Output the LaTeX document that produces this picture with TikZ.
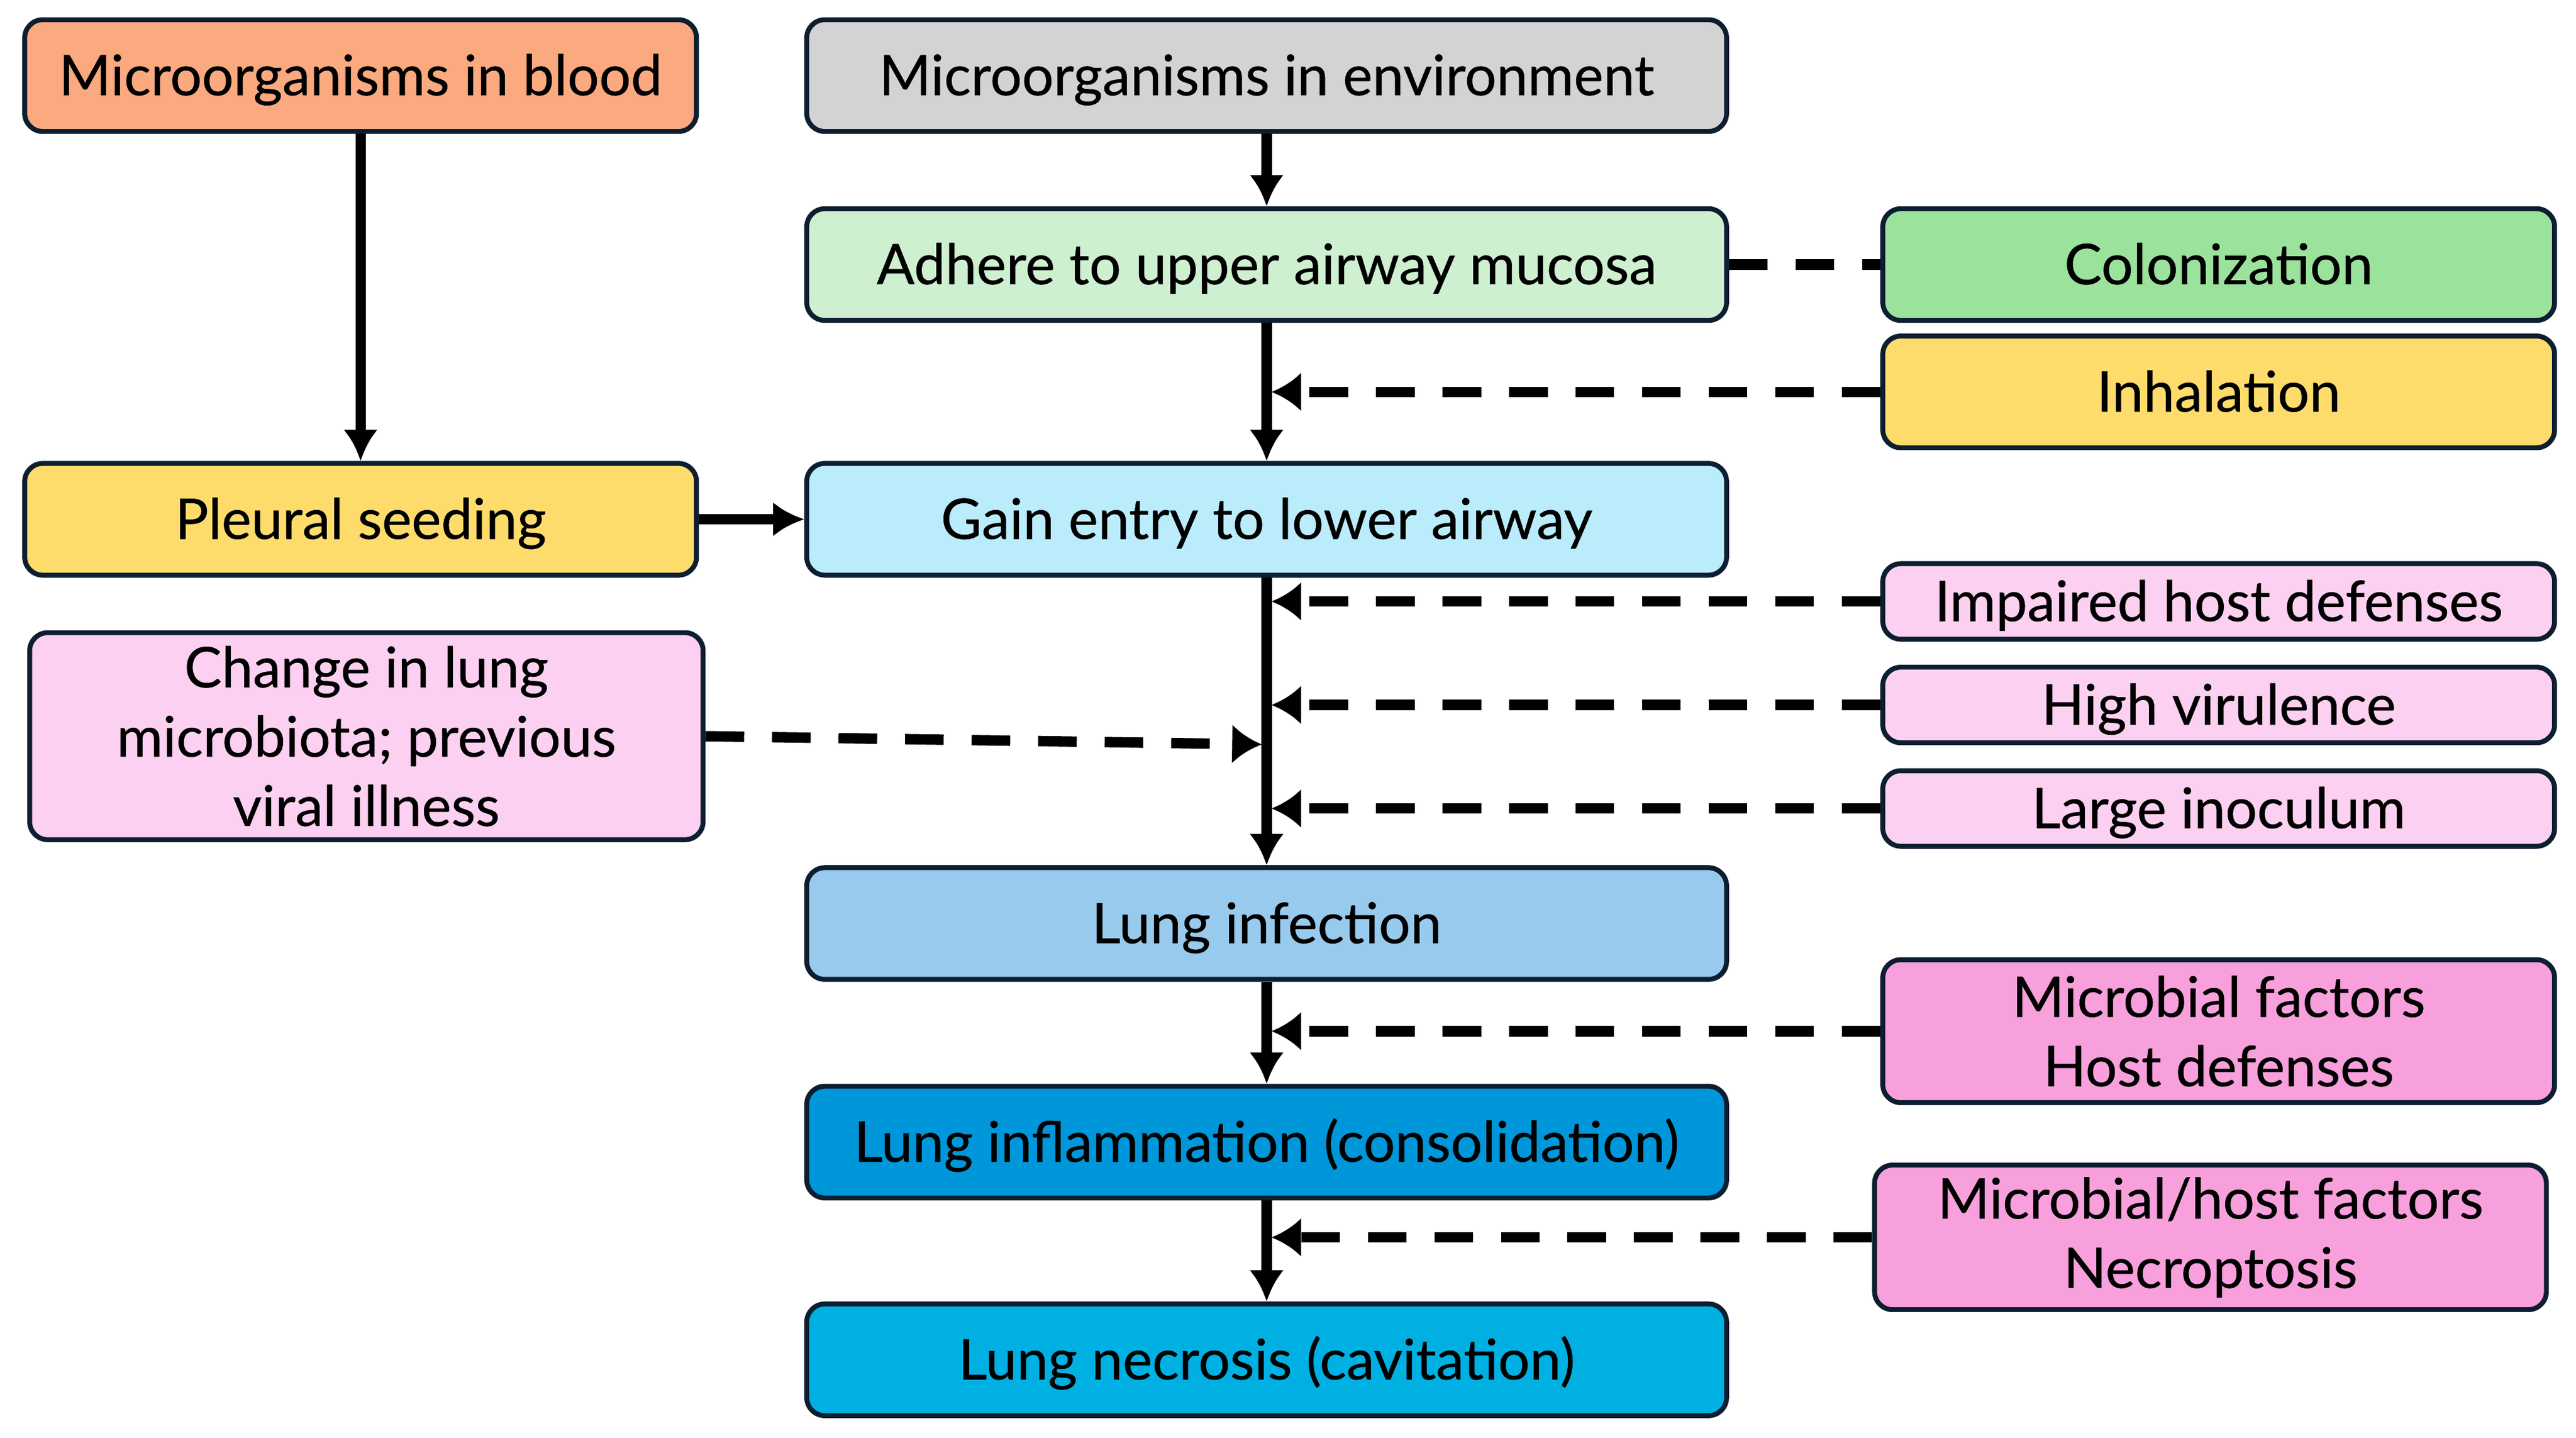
\documentclass[tikz,border=0pt]{standalone}
\usepackage{fontspec}
\setmainfont{Lato}[FakeBold=0.5]
\usepackage{tikz}
\usetikzlibrary{arrows.meta}

\definecolor{bloodcol}{RGB}{251,169,127}
\definecolor{envcol}{RGB}{211,211,211}
\definecolor{adherecol}{RGB}{206,240,208}
\definecolor{coloncol}{RGB}{155,226,156}
\definecolor{yellowcol}{RGB}{254,220,108}
\definecolor{gaincol}{RGB}{186,236,252}
\definecolor{lightpink}{RGB}{252,208,240}
\definecolor{midpink}{RGB}{248,160,220}
\definecolor{infectcol}{RGB}{152,202,238}
\definecolor{inflamcol}{RGB}{0,150,218}
\definecolor{necrocol}{RGB}{0,176,226}
\definecolor{edgecol}{RGB}{12,30,48}

\begin{document}
\begin{tikzpicture}[x=0.02cm,y=-0.02cm,
    box/.style={draw=edgecol,line width=1.7pt,rounded corners=0.22cm,
      minimum height=1.36cm,align=center,inner sep=0pt,
      text height=13.6pt,text depth=0pt,
      font=\fontsize{19.4}{24}\selectfont},
    midbox/.style={box,minimum width=11.2cm},
    sidebox/.style={box,minimum width=8.18cm},
    twoline/.style={text height=,text depth=},
    flow/.style={line width=3.6pt,-{Latex[length=0.38cm,width=0.42cm]}},
    hint/.style={line width=3.6pt,dash pattern=on 0.47cm off 0.34cm,
      -{Latex[length=0.36cm,width=0.48cm]}},
  ]
    \useasboundingbox (0,0) rectangle (1568,875);

    \node[sidebox,fill=bloodcol] (blood) at (219.5,46) {Microorganisms in blood};
    \node[midbox,fill=envcol] (env) at (771,46) {Microorganisms in environment};
    \node[midbox,fill=adherecol] (adhere) at (771,161) {Adhere to upper airway mucosa};
    \node[sidebox,fill=coloncol] (colon) at (1350.5,161) {Colonization};
    \node[sidebox,fill=yellowcol] (inhal) at (1350.5,238.5) {Inhalation};
    \node[sidebox,fill=yellowcol] (pleural) at (219.5,316) {Pleural seeding};
    \node[midbox,fill=gaincol] (gain) at (771,316) {Gain entry to lower airway};
    \node[sidebox,fill=lightpink,minimum height=0.92cm] (impair) at (1350.5,366) {Impaired host defenses};
    \node[sidebox,fill=lightpink,minimum height=0.92cm] (virul) at (1350.5,429) {High virulence};
    \node[sidebox,fill=lightpink,minimum height=0.92cm] (inoc) at (1350.5,492) {Large inoculum};
    \node[sidebox,twoline,fill=lightpink,minimum width=8.2cm,minimum height=2.52cm] (change) at (223,448)
      {Change in lung\\microbiota; previous\\viral illness};
    \node[midbox,fill=infectcol] (infect) at (771,562) {Lung infection};
    \node[sidebox,twoline,fill=midpink,minimum height=1.74cm] (microb) at (1350.5,627.5)
      {Microbial factors\\Host defenses};
    \node[midbox,fill=inflamcol] (inflam) at (771,695) {Lung inflammation (consolidation)};
    \node[sidebox,twoline,fill=midpink,minimum height=1.76cm] (necfac) at (1345.5,753)
      {Microbial/host factors\\Necroptosis};
    \node[midbox,fill=necrocol] (necro) at (771,827.5) {Lung necrosis (cavitation)};

    \draw[flow] (blood) -- (pleural);
    \draw[flow] (pleural) -- (gain);
    \draw[flow] (env) -- (adhere);
    \draw[flow] (adhere) -- (gain);
    \draw[flow] (gain) -- (infect);
    \draw[flow] (infect) -- (inflam);
    \draw[flow] (inflam) -- (necro);

    \draw[hint,-] (adhere) -- (colon);
    \draw[hint] (inhal.west) -- ([xshift=0.06cm]inhal.west -| adhere.south);
    \draw[hint] (impair.west) -- ([xshift=0.06cm]impair.west -| gain.south);
    \draw[hint] (virul.west) -- ([xshift=0.06cm]virul.west -| gain.south);
    \draw[hint] (inoc.west) -- ([xshift=0.06cm]inoc.west -| gain.south);
    \draw[hint] (change.east) -- ([xshift=-0.06cm,yshift=-0.1cm]change.east -| gain.south);
    \draw[hint] (microb.west) -- ([xshift=0.06cm]microb.west -| infect.south);
    \draw[hint] (necfac.west) -- ([xshift=0.06cm]necfac.west -| inflam.south);
  \end{tikzpicture}
\end{document}
